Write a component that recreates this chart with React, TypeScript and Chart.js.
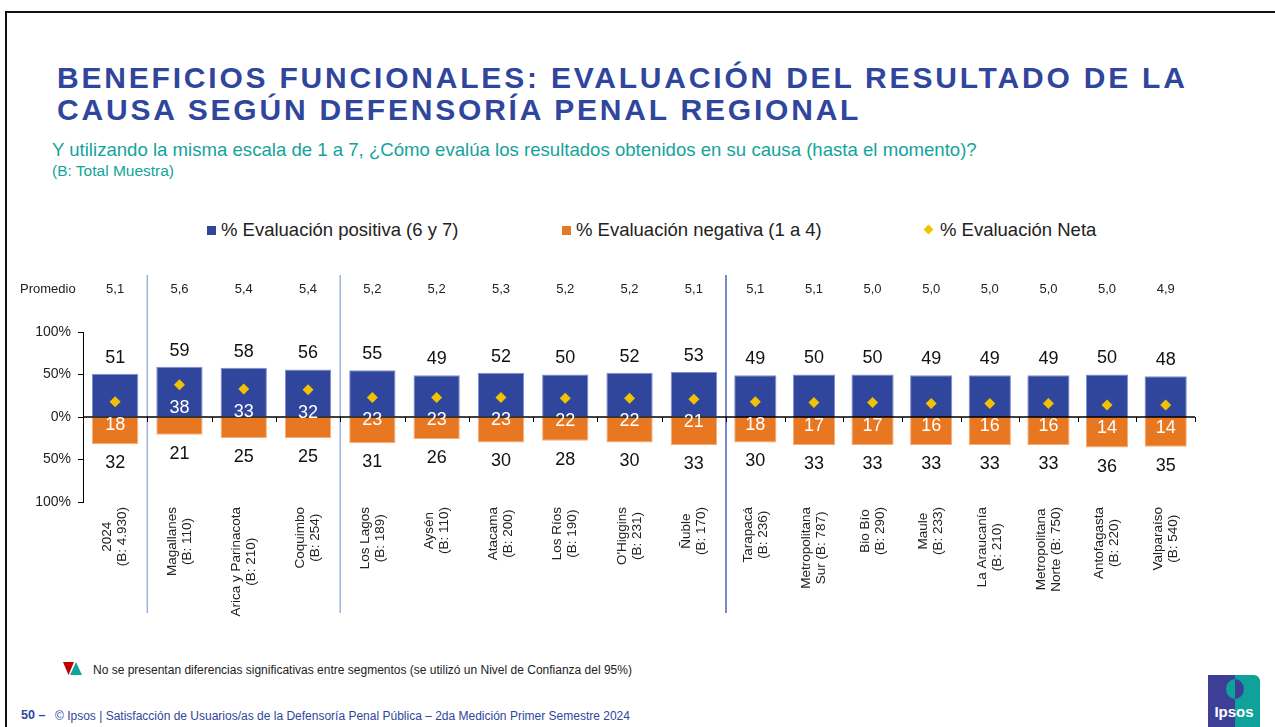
import React, { useEffect, useRef } from "react";
import { Chart, registerables } from "chart.js";

Chart.register(...registerables);

// ---------- DATA ----------
const categories: string[][] = [
  ["2024", "(B: 4.930)"],
  ["Magallanes", "(B: 110)"],
  ["Arica y Parinacota", "(B: 210)"],
  ["Coquimbo", "(B: 254)"],
  ["Los Lagos", "(B: 189)"],
  ["Aysén", "(B: 110)"],
  ["Atacama", "(B: 200)"],
  ["Los Ríos", "(B: 190)"],
  ["O'Higgins", "(B: 231)"],
  ["Ñuble", "(B: 170)"],
  ["Tarapacá", "(B: 236)"],
  ["Metropolitana", "Sur (B: 787)"],
  ["Bio Bío", "(B: 290)"],
  ["Maule", "(B: 233)"],
  ["La Araucanía", "(B: 210)"],
  ["Metropolitana", "Norte (B: 750)"],
  ["Antofagasta", "(B: 220)"],
  ["Valparaíso", "(B: 540)"],
];
const promedio = ["5,1", "5,6", "5,4", "5,4", "5,2", "5,2", "5,3", "5,2", "5,2", "5,1", "5,1", "5,1", "5,0", "5,0", "5,0", "5,0", "5,0", "4,9"];
const positive = [51, 59, 58, 56, 55, 49, 52, 50, 52, 53, 49, 50, 50, 49, 49, 49, 50, 48];
const negative = [32, 21, 25, 25, 31, 26, 30, 28, 30, 33, 30, 33, 33, 33, 33, 33, 36, 35];
const net = [18, 38, 33, 32, 23, 23, 23, 22, 22, 21, 18, 17, 17, 16, 16, 16, 14, 14];
const yTicks = [-100, -50, 0, 50, 100];
const seriesNames = ["% Evaluación positiva (6 y 7)", "% Evaluación negativa (1 a 4)", "% Evaluación Neta"];
const groupStarts = [1, 4, 10];

// ---------- STYLE ----------
const BLUE = "#2F469C";
const ORANGE = "#E87722";
const YELLOW = "#F2C200";
const TEAL = "#14A39B";
const FONT = "Arial, 'Liberation Sans', Helvetica, sans-serif";
const CANVAS_TOP = 260;
const CANVAS_H = 360;

type PanelProps = {
  from: number;
  to: number;
  left: number;
  width: number;
  padLeft: number;
  padRight: number;
  showY: boolean;
};

function Panel({ from, to, left, width, padLeft, padRight, showY }: PanelProps) {
  const ref = useRef<HTMLCanvasElement>(null);
  useEffect(() => {
    const canvas = ref.current!;
    const labels = categories.slice(from, to);
    const pos = positive.slice(from, to);
    const neg = negative.slice(from, to).map((v) => -v);
    const nt = net.slice(from, to);
    const prom = promedio.slice(from, to);

    const overlay = {
      id: "overlay",
      afterDatasetsDraw(chart: any) {
        const { ctx, chartArea: ca } = chart;
        const xs = chart.scales.x;
        const ys = chart.scales.y;
        const n = labels.length;
        const cx = (i: number) => xs.getPixelForValue(i);
        const half = (ca.right - ca.left) / n / 2;
        const y0 = ys.getPixelForValue(0);
        ctx.save();

        // group separators
        groupStarts.forEach((g, k) => {
          let bx: number | null = null;
          if (g > from && g < to) bx = cx(g - from) - half;
          else if (g === to) bx = ca.right;
          if (bx === null) return;
          ctx.strokeStyle = k === groupStarts.length - 1 ? "#4A62BC" : "#A3B1E0";
          ctx.lineWidth = 1.5;
          ctx.beginPath();
          ctx.moveTo(bx, 15);
          ctx.lineTo(bx, 353);
          ctx.stroke();
        });

        // zero line + category ticks
        ctx.strokeStyle = "#000";
        ctx.lineWidth = 1.4;
        ctx.beginPath();
        ctx.moveTo(ca.left, y0);
        ctx.lineTo(ca.right, y0);
        ctx.stroke();
        ctx.lineWidth = 1;
        for (let i = 0; i < n; i++) {
          const bx = Math.round(cx(i) + half) + 0.5;
          ctx.beginPath();
          ctx.moveTo(bx, y0);
          ctx.lineTo(bx, y0 + 5);
          ctx.stroke();
        }

        const mPos = chart.getDatasetMeta(0).data;
        const mNeg = chart.getDatasetMeta(1).data;
        const mNet = chart.getDatasetMeta(2).data;
        ctx.textAlign = "center";
        ctx.textBaseline = "middle";
        ctx.font = `18px ${FONT}`;
        for (let i = 0; i < n; i++) {
          ctx.fillStyle = "#111";
          ctx.fillText(String(pos[i]), mPos[i].x, mPos[i].y - 16);
          ctx.fillText(String(-neg[i]), mNeg[i].x, mNeg[i].y + 19);
          ctx.fillStyle = "#fff";
          ctx.fillText(String(nt[i]), mNet[i].x, mNet[i].y + 23);
        }

        // promedio row
        ctx.font = `13px ${FONT}`;
        ctx.fillStyle = "#222";
        for (let i = 0; i < n; i++) {
          ctx.fillText(prom[i], cx(i), 29);
        }
        if (showY) {
          ctx.textAlign = "left";
          ctx.fillText("Promedio", 20, 29);
        }

        // category labels (rotated)
        ctx.font = `13.5px ${FONT}`;
        ctx.fillStyle = "#222";
        ctx.textAlign = "center";
        const lh = 15;
        for (let i = 0; i < n; i++) {
          const lines = labels[i];
          const maxW = Math.max(...lines.map((l) => ctx.measureText(l).width));
          ctx.save();
          ctx.translate(cx(i), 247);
          ctx.rotate(-Math.PI / 2);
          lines.forEach((l, j) => {
            ctx.fillText(l, -maxW / 2, (j - (lines.length - 1) / 2) * lh);
          });
          ctx.restore();
        }
        ctx.restore();
      },
    };

    const chart = new Chart(canvas, {
      type: "bar",
      data: {
        labels: labels.map((l) => l.join(" ")),
        datasets: [
          {
            label: seriesNames[0],
            data: pos,
            backgroundColor: BLUE,
            borderColor: "#7F90D2",
            borderWidth: 1,
            barPercentage: 0.72,
            categoryPercentage: 1,
            order: 2,
            stack: "s",
          },
          {
            label: seriesNames[1],
            data: neg,
            backgroundColor: ORANGE,
            borderColor: "#F4AE79",
            borderWidth: 1,
            barPercentage: 0.72,
            categoryPercentage: 1,
            order: 2,
            stack: "s",
          },
          {
            type: "line",
            label: seriesNames[2],
            data: nt,
            showLine: false,
            pointStyle: "rectRot",
            pointRadius: 5.5,
            pointHoverRadius: 5.5,
            pointBackgroundColor: YELLOW,
            pointBorderColor: YELLOW,
            pointBorderWidth: 0,
            order: 0,
            stack: "net",
          } as any,
        ],
      },
      options: {
        responsive: false,
        maintainAspectRatio: false,
        animation: false,
        events: [],
        layout: { padding: { left: padLeft, right: padRight, top: 72, bottom: 118 } },
        plugins: { legend: { display: false }, tooltip: { enabled: false } },
        scales: {
          x: { display: false, stacked: true, offset: true },
          y: {
            display: showY,
            stacked: true,
            min: -100,
            max: 100,
            afterFit: (s: any) => {
              s.width = showY ? 83 : 0;
            },
            afterBuildTicks: (s: any) => {
              s.ticks = yTicks.map((v) => ({ value: v }));
            },
            ticks: {
              callback: (v: any) => Math.abs(Number(v)) + "%",
              color: "#222",
              font: { family: FONT, size: 14 },
              padding: 7,
            },
            grid: { drawOnChartArea: false, drawTicks: true, tickLength: 5, color: "#000" },
            border: { display: true, color: "#000", width: 1 },
          },
        },
      } as any,
      plugins: [overlay],
    });
    return () => chart.destroy();
  }, [from, to, padLeft, padRight, showY]);

  return (
    <canvas
      ref={ref}
      width={width}
      height={CANVAS_H}
      style={{ position: "absolute", left, top: CANVAS_TOP, width, height: CANVAS_H }}
    />
  );
}

const abs = (s: React.CSSProperties): React.CSSProperties => ({ position: "absolute", whiteSpace: "nowrap", ...s });

export default function App() {
  const split = groupStarts[groupStarts.length - 1];
  return (
    <div
      style={{
        position: "absolute",
        left: 0,
        top: 0,
        width: 1275,
        height: 727,
        background: "#fff",
        overflow: "hidden",
        fontFamily: FONT,
      }}
    >
      <div style={{ position: "absolute", left: 5, top: 11, right: -10, bottom: -10, borderLeft: "2px solid #111", borderTop: "2px solid #111" }} />

      <div style={abs({ left: 57, top: 62, fontSize: 30, fontWeight: "bold", color: BLUE, letterSpacing: "2.8px", lineHeight: "32px" })}>
        BENEFICIOS FUNCIONALES: EVALUACIÓN DEL RESULTADO DE LA
        <br />
        CAUSA SEGÚN DEFENSORÍA PENAL REGIONAL
      </div>
      <div style={abs({ left: 52, top: 141, fontSize: 18.6, lineHeight: "18px", color: TEAL })}>
        Y utilizando la misma escala de 1 a 7, ¿Cómo evalúa los resultados obtenidos en su causa (hasta el momento)?
      </div>
      <div style={abs({ left: 52, top: 163, fontSize: 15.5, lineHeight: "16px", color: TEAL })}>(B: Total Muestra)</div>

      {/* legend */}
      <div style={abs({ left: 207, top: 226, width: 9, height: 9, background: BLUE })} />
      <div style={abs({ left: 221, top: 221, fontSize: 18.5, lineHeight: "18px", color: "#222" })}>{seriesNames[0]}</div>
      <div style={abs({ left: 562, top: 226, width: 9, height: 9, background: ORANGE })} />
      <div style={abs({ left: 576, top: 221, fontSize: 18.5, lineHeight: "18px", color: "#222" })}>{seriesNames[1]}</div>
      <div style={abs({ left: 925, top: 226, width: 7, height: 7, background: YELLOW, transform: "rotate(45deg)" })} />
      <div style={abs({ left: 940, top: 221, fontSize: 18.5, lineHeight: "18px", color: "#222" })}>{seriesNames[2]}</div>

      <Panel from={0} to={split} left={0} width={740} padLeft={0} padRight={14} showY={true} />
      <Panel from={split} to={categories.length} left={700} width={575} padLeft={26} padRight={80} showY={false} />

      {/* significance note */}
      <svg style={{ position: "absolute", left: 63, top: 662 }} width={22} height={14}>
        <polygon points="0,0 11,0 5.5,13" fill="#C00000" />
        <polygon points="13,0 19,13 7,13" fill={TEAL} />
      </svg>
      <div style={abs({ left: 93, top: 664, fontSize: 12, lineHeight: "12px", color: "#222" })}>
        No se presentan diferencias significativas entre segmentos (se utilizó un Nivel de Confianza del 95%)
      </div>

      {/* footer */}
      <div style={abs({ left: 21, top: 709, fontSize: 12.5, lineHeight: "13px", color: BLUE, fontWeight: "bold" })}>50 –</div>
      <div style={abs({ left: 55, top: 710, fontSize: 12, lineHeight: "12px", color: BLUE })}>
        © Ipsos | Satisfacción de Usuarios/as de la Defensoría Penal Pública – 2da Medición Primer Semestre 2024
      </div>

      {/* Ipsos logo */}
      <div style={{ position: "absolute", left: 1208, top: 675, width: 52, height: 54, overflow: "hidden", borderTopRightRadius: 6 }}>
        <div style={{ position: "absolute", left: 0, top: 0, width: 27, height: 54, background: "#3D3F97" }} />
        <div style={{ position: "absolute", left: 27, top: 0, width: 25, height: 54, background: "#0FA29A" }} />
        <div style={{ position: "absolute", left: 18, top: 4, width: 18, height: 20, borderRadius: "50%", background: "linear-gradient(90deg, #0FA29A 50%, #3D3F97 50%)" }} />
        <div style={{ position: "absolute", left: 0, top: 29, width: 52, textAlign: "center", color: "#fff", fontWeight: "bold", fontSize: 15, lineHeight: "16px" }}>Ipsos</div>
      </div>
    </div>
  );
}
